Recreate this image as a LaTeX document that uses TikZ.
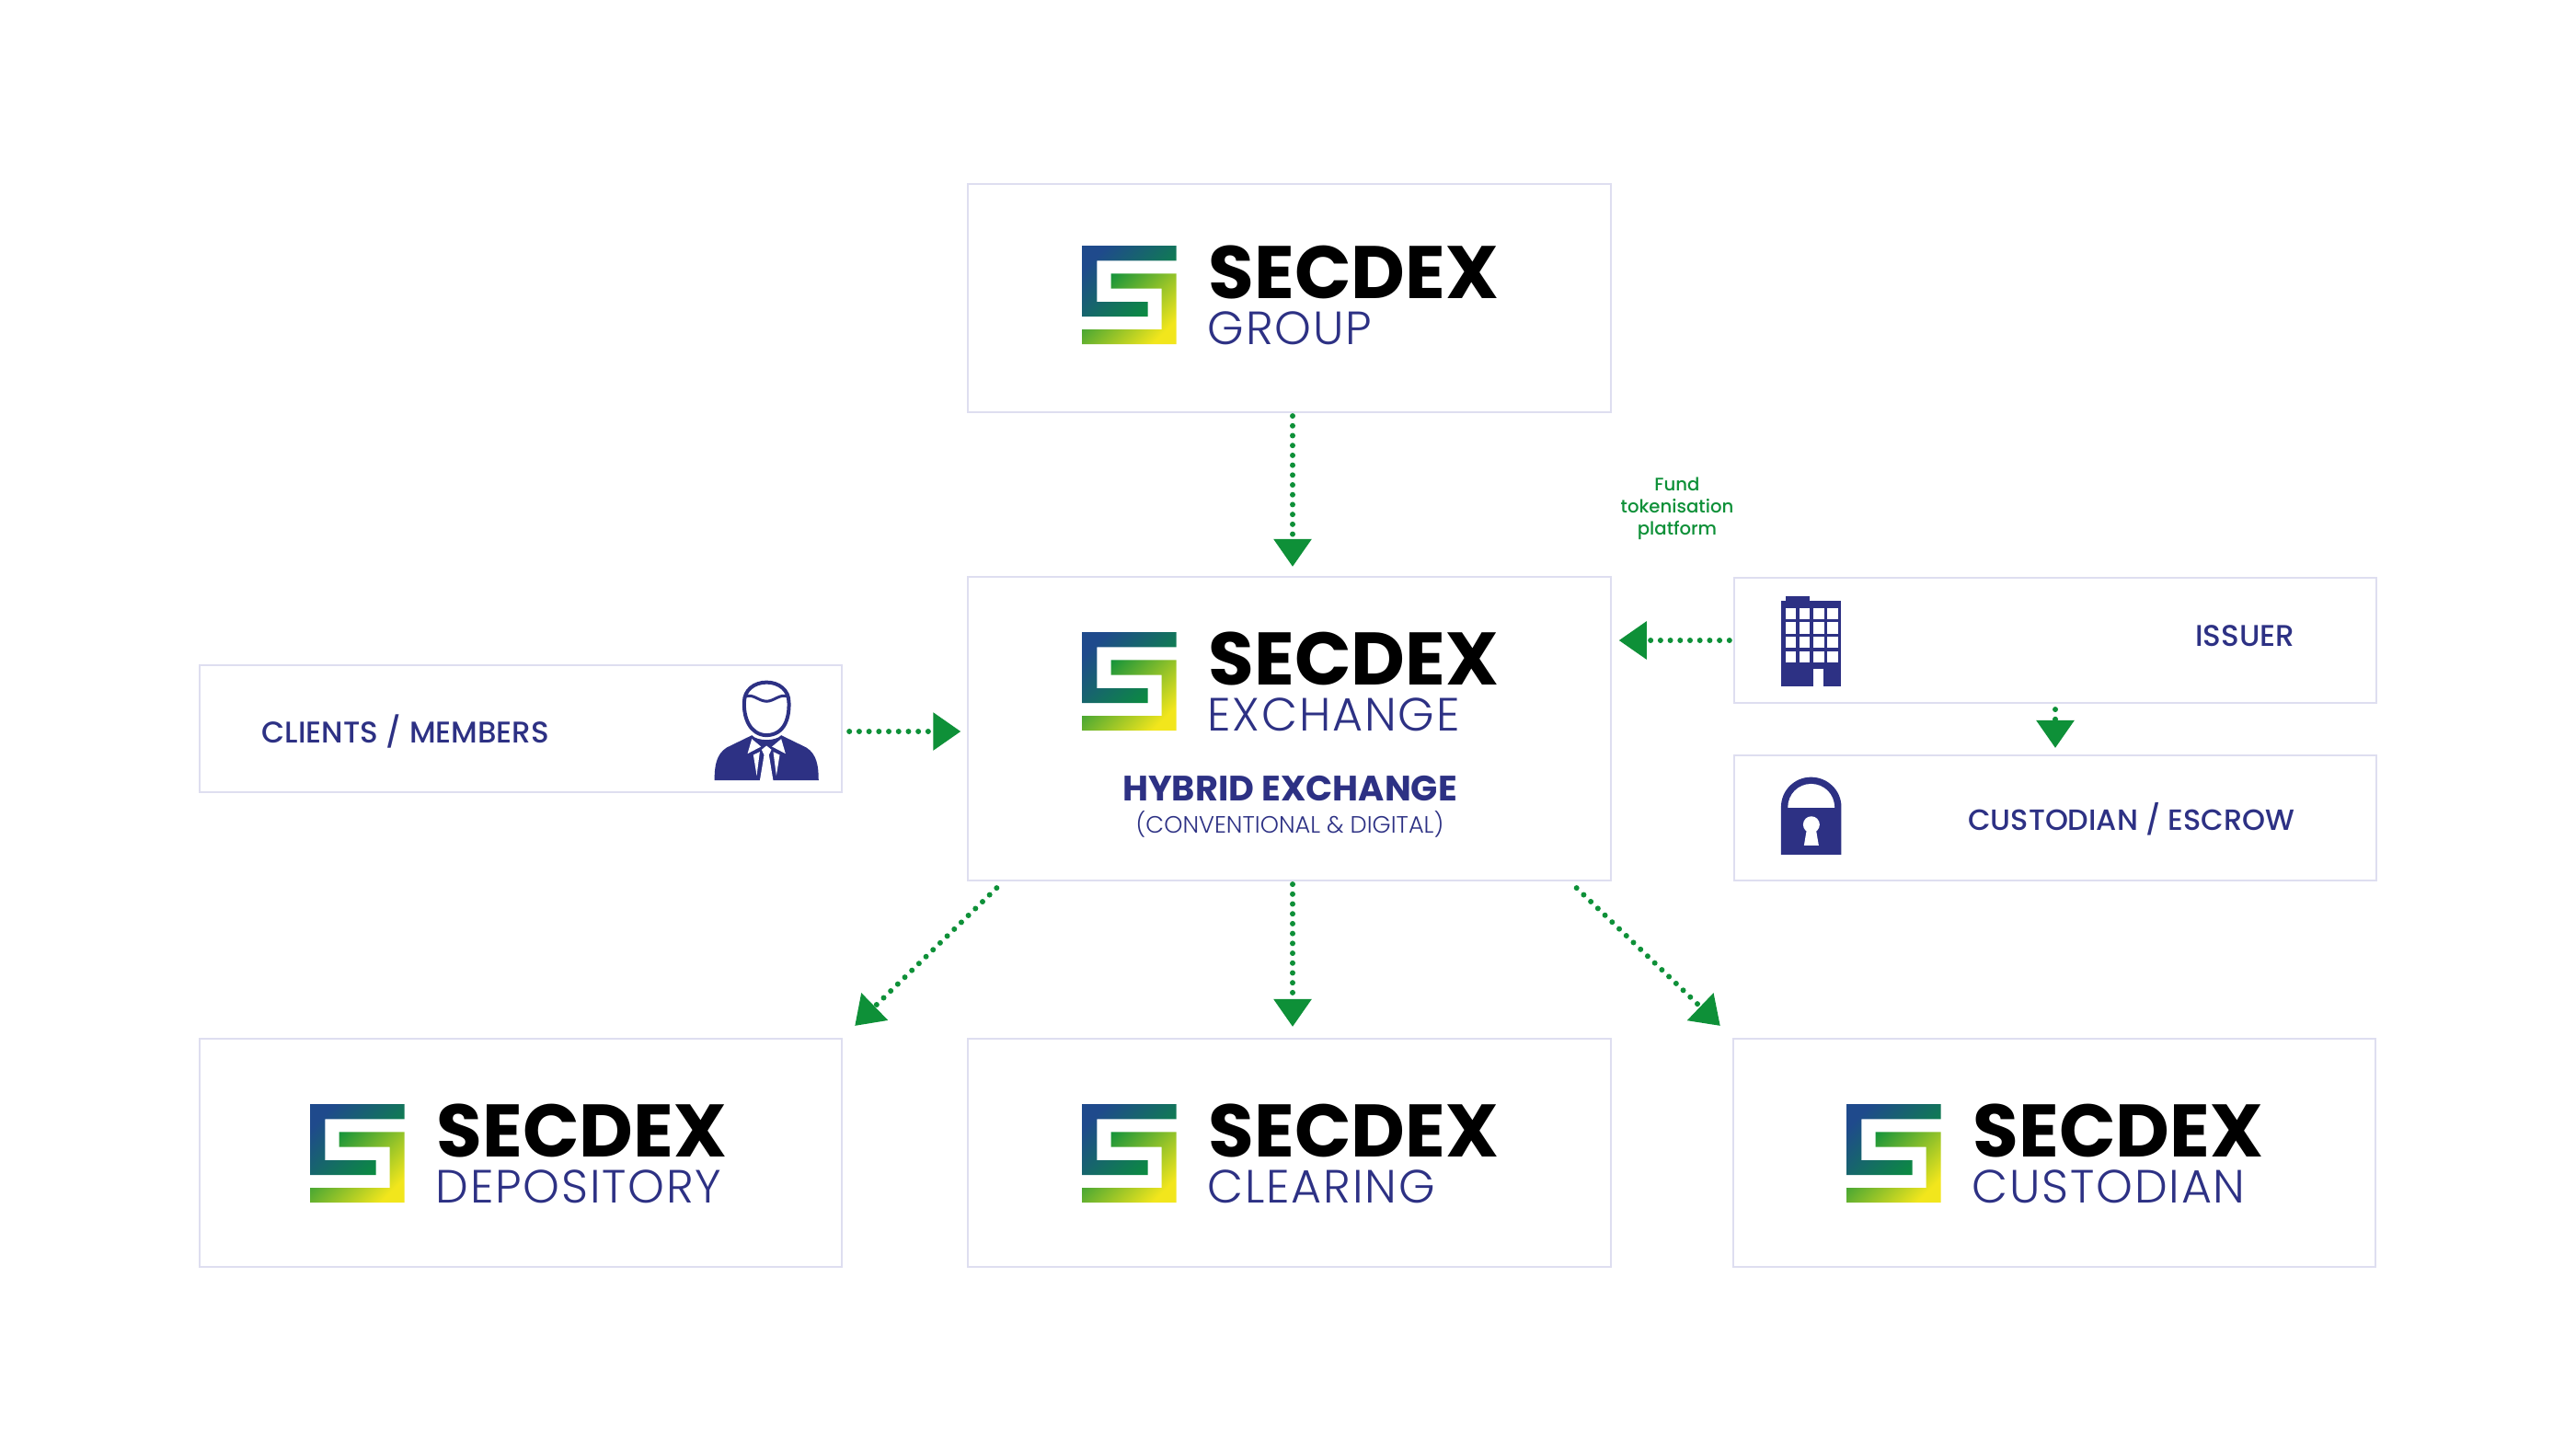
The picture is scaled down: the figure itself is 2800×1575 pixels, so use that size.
\documentclass[tikz,border=0pt]{standalone}
\usepackage{fontspec}
\setmainfont{Poppins}
\newfontfamily\lightfont{Poppins Light}
\newfontfamily\lightspaced[LetterSpace=3.5]{Poppins Light}
\newfontfamily\mediumfont{Poppins Medium}
\usetikzlibrary{arrows.meta}
\definecolor{navy}{HTML}{2D3184}
\definecolor{flowgreen}{HTML}{0E9038}
\definecolor{boxline}{HTML}{DEDEF0}
\definecolor{logoblue}{HTML}{1F4A8C}
\definecolor{logogreen}{HTML}{0A8F3C}
\definecolor{logoyellow}{HTML}{F2E61C}
\tikzset{
  panel/.style={draw=boxline, line width=0.02cm, fill=white, minimum width=6.98cm, inner sep=0pt},
  flow/.style={draw=flowgreen, line width=0.06cm, line cap=round, dash pattern=on 0pt off 0.107cm,
    -{Triangle[length=0.3cm,width=0.4cm,fill=flowgreen]}},
  caption/.style={text=navy, inner sep=0pt, font=\mediumfont\fontsize{9.25}{11}\selectfont},
  pics/secdexlogo/.style={code={
    \shade[left color=logoblue, right color=logogreen, shading angle=45]
      (0,0) -- (102.7,0) -- (102.7,16.3) -- (16.3,16.3) -- (16.3,61) -- (71.7,61) -- (71.7,77) -- (0,77) -- cycle;
    \shade[left color=logogreen, right color=logoyellow, shading angle=45]
      (31.7,30.3) -- (102.7,30.3) -- (102.7,107) -- (0,107) -- (0,91) -- (86.7,91) -- (86.7,46.7) -- (31.7,46.7) -- cycle;
    \node[anchor=base west, inner sep=0pt, font=\bfseries\fontsize{23}{23}\selectfont] (-word) at (137,57) {SECDEX};
    \node[anchor=base west, inner sep=0pt, text=navy, font=\lightspaced\fontsize{14.4}{14}\selectfont] (-name) at (136,107) {#1};
  }},
}
\begin{document}
\begin{tikzpicture}[x=0.01cm, y=-0.01cm]
\useasboundingbox (0,0) rectangle (2800,1575);
% panels
\node[panel, minimum height=2.48cm] (group) at (1401.5,324) {};
\node[panel, minimum height=3.3cm] (exchange) at (1401.5,792) {};
\node[panel, minimum height=1.38cm] (clients) at (566,792) {};
\node[panel, minimum height=1.36cm] (issuer) at (2234,696) {};
\node[panel, minimum height=1.36cm] (escrow) at (2234,889) {};
\node[panel, minimum height=2.48cm] (depository) at (566,1253) {};
\node[panel, minimum height=2.48cm] (clearing) at (1401.5,1253) {};
\node[panel, minimum height=2.48cm] (custodian) at (2233,1253) {};
% logos
\pic (grouplogo) at (1176,267) {secdexlogo={GROUP}};
\pic (exchangelogo) at (1176,687) {secdexlogo={EXCHANGE}};
\pic (depositorylogo) at (337,1200) {secdexlogo={DEPOSITORY}};
\pic (clearinglogo) at (1176,1200) {secdexlogo={CLEARING}};
\pic (custodianlogo) at (2007,1200) {secdexlogo={CUSTODIAN}};
% texts
\node[text=navy, inner sep=0pt, font=\bfseries\fontsize{10.9}{12}\selectfont] (hybrid) at (1402,857) {HYBRID EXCHANGE};
\node[text=navy, inner sep=0pt, font=\lightfont\fontsize{7.3}{9}\selectfont] (conventional) at (1402,896) {(CONVENTIONAL \& DIGITAL)};
\node[caption, anchor=west] (clientstext) at (284,795) {CLIENTS / MEMBERS};
\node[caption, anchor=east] (issuertext) at (2495,691) {ISSUER};
\node[caption, anchor=east, font=\mediumfont\fontsize{9.05}{11}\selectfont] (escrowtext) at (2495,890) {CUSTODIAN / ESCROW};
\node[text=flowgreen, inner sep=0pt, align=center, font=\mediumfont\fontsize{5.6}{6.8}\selectfont] (fund) at (1823,553) {Fund\\tokenisation\\platform};
% connectors
\draw[flow] ([xshift=0.035cm,yshift=-0.03cm]group.south) -- ([xshift=0.035cm,yshift=0.1cm]exchange.north);
\draw[flow] ([xshift=0.07cm,yshift=-0.03cm]clients.east) -- ([xshift=-0.07cm,yshift=-0.03cm]exchange.west);
\draw[flow] ([xshift=-0.04cm]issuer.west) -- ([xshift=0.08cm]issuer.west -| exchange.east);
\draw[flow] ([yshift=-0.06cm]issuer.south) -- ([yshift=0.07cm]escrow.north);
\draw[flow] ([xshift=-3.18cm,yshift=-0.07cm]exchange.south) -- ([xshift=3.63cm,yshift=0.13cm]depository.north);
\draw[flow] ([xshift=0.035cm,yshift=-0.03cm]exchange.south) -- ([xshift=0.035cm,yshift=0.12cm]clearing.north);
\draw[flow] ([xshift=3.12cm,yshift=-0.07cm]exchange.south) -- ([xshift=-3.63cm,yshift=0.13cm]custodian.north);
% person
\begin{scope}[shift={(740,700)}, x=0.00333cm, y=-0.00333cm]
  \fill[navy] (110,445) .. controls (110,400) and (115,360) .. (150,338) -- (232,298) .. controls (250,318) and (310,318) .. (328,298) -- (410,338) .. controls (445,360) and (450,400) .. (450,445) -- cycle;
  \draw[navy, line width=0.04cm, fill=white] (207,190) .. controls (207,150) and (240,125) .. (280,125) .. controls (320,125) and (353,150) .. (353,190) .. controls (355,240) and (340,296) .. (280,298) .. controls (225,296) and (205,240) .. (207,190) -- cycle;
  \draw[navy, line width=0.03cm] (210,172) .. controls (235,160) and (255,187) .. (280,187) .. controls (305,187) and (325,160) .. (350,172);
  \fill[white] (232,310) -- (262,335) -- (218,358) -- cycle;
  \fill[white] (328,310) -- (298,335) -- (342,358) -- cycle;
  \fill[white] (280,332) -- (296,345) -- (288,362) -- (302,447) -- (258,447) -- (272,362) -- (264,345) -- cycle;
  \fill[white] (237,362) -- (258,352) -- (248,430) -- cycle;
  \fill[white] (323,362) -- (302,352) -- (312,430) -- cycle;
\end{scope}
% building
\begin{scope}[shift={(1880,620)}, x=0.00333cm, y=-0.00333cm]
  \fill[navy] (168,100) rectangle (365,380);
  \fill[navy] (182,84) rectangle (262,100);
  \foreach \wx in {182,227,273,318}
    \foreach \wy in {122,169,216,263}
      \fill[white] (\wx,\wy) rectangle +(35,37);
  \fill[white] (273,320) rectangle (307,381);
\end{scope}
% lock
\begin{scope}[shift={(1880,620)}, x=0.00333cm, y=-0.00333cm]
  \fill[navy] (168,928) -- (168,773) .. controls (168,718) and (212,675) .. (266,675) .. controls (320,675) and (365,718) .. (365,773) -- (365,928) -- cycle;
  \fill[white] (190,775) .. controls (190,730) and (225,697) .. (266,697) .. controls (308,697) and (343,730) .. (343,775) -- cycle;
  \fill[white] (267,830) circle (27);
  \fill[white] (252,845) -- (282,845) -- (291,898) -- (243,898) -- cycle;
\end{scope}
\end{tikzpicture}
\end{document}
